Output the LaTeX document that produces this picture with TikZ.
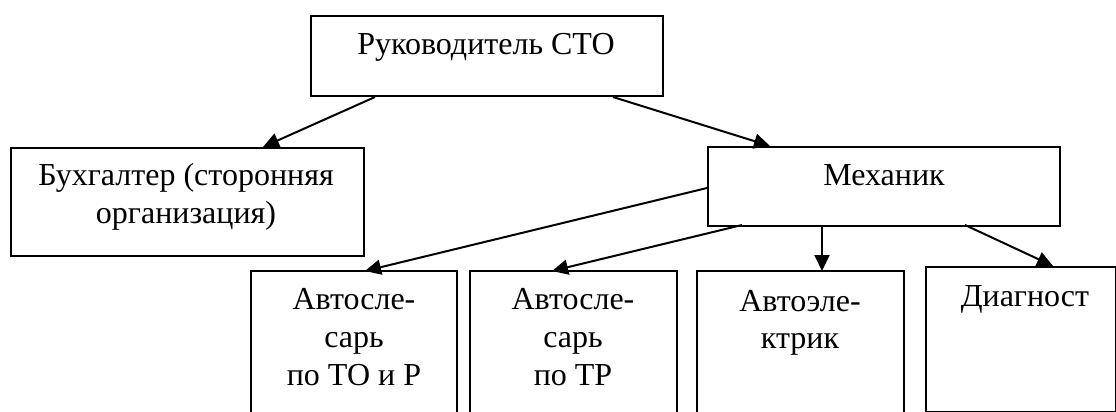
\documentclass[tikz,border=0pt]{standalone}
\usepackage{fontspec}
\setmainfont{Liberation Serif}
\usetikzlibrary{arrows.meta,calc}
\begin{document}
\begin{tikzpicture}[x=1pt,y=1pt,
  box/.style={draw,line width=2pt,rectangle,inner sep=0pt,anchor=north west},
  frame/.style={rectangle,inner sep=0pt,anchor=north west},
  txt/.style={font=\fontsize{32}{38.5}\selectfont,inner sep=0pt,align=center,anchor=base},
  arr/.style={line width=2pt,-{Triangle[length=16pt,width=15pt]}},
  side/.style={line width=2pt}]
\useasboundingbox (0,0) rectangle (1116,-412);
% boxes
\node[box,minimum width=352pt,minimum height=80pt] (r) at (310,-15) {};
\node[box,minimum width=353pt,minimum height=108pt] (b) at (10,-147) {};
\node[box,minimum width=352pt,minimum height=79pt] (m) at (707,-146) {};
\node[frame,minimum width=206pt,minimum height=150pt] (s1) at (251,-271) {};
\node[frame,minimum width=207pt,minimum height=150pt] (s2) at (470,-271) {};
\node[frame,minimum width=207pt,minimum height=150pt] (s3) at (697,-271) {};
\node[box,minimum width=190pt,minimum height=145pt] (d) at (925,-266) {};
\foreach \n in {s1,s2,s3}
  \draw[side] (\n.south west) -- (\n.north west) -- (\n.north east) -- (\n.south east);
% texts
\node[txt] (tr) at (486,-55) {Руководитель СТО};
\node[txt] (tb1) at (186,-185) {Бухгалтер (сторонняя};
\node[txt] (tb2) at (186,-223) {организация)};
\node[txt] (tm) at (884,-185) {Механик};
\node[txt] (ts1a) at (354,-309) {Автосле-};
\node[txt] (ts1b) at (354,-347) {сарь};
\node[txt] (ts1c) at (354,-385) {по ТО и Р};
\node[txt] (ts2a) at (573,-309) {Автосле-};
\node[txt] (ts2b) at (573,-347) {сарь};
\node[txt] (ts2c) at (573,-385) {по ТР};
\node[txt] (ts3a) at (800,-311) {Автоэле-};
\node[txt] (ts3b) at (800,-348) {ктрик};
\node[txt] (td) at (1025,-306) {Диагност};
% arrows
\draw[arr] ($(r.south west)+(65,0)$) -- ($(b.north west)+(253,0)$);
\draw[arr] ($(r.south west)+(303,0)$) -- ($(m.north west)+(63,0)$);
\draw[arr] ($(m.north west)+(0,-42)$) -- ($(s1.north west)+(114,0)$);
\draw[arr] ($(m.south west)+(35,2)$) -- ($(s2.north west)+(82,0)$);
\draw[arr] ($(m.south west)+(115,2)$) -- ($(s3.north west)+(125,0)$);
\draw[arr] ($(m.south west)+(258,2)$) -- ($(d.north west)+(128,0)$);
\end{tikzpicture}
\end{document}
